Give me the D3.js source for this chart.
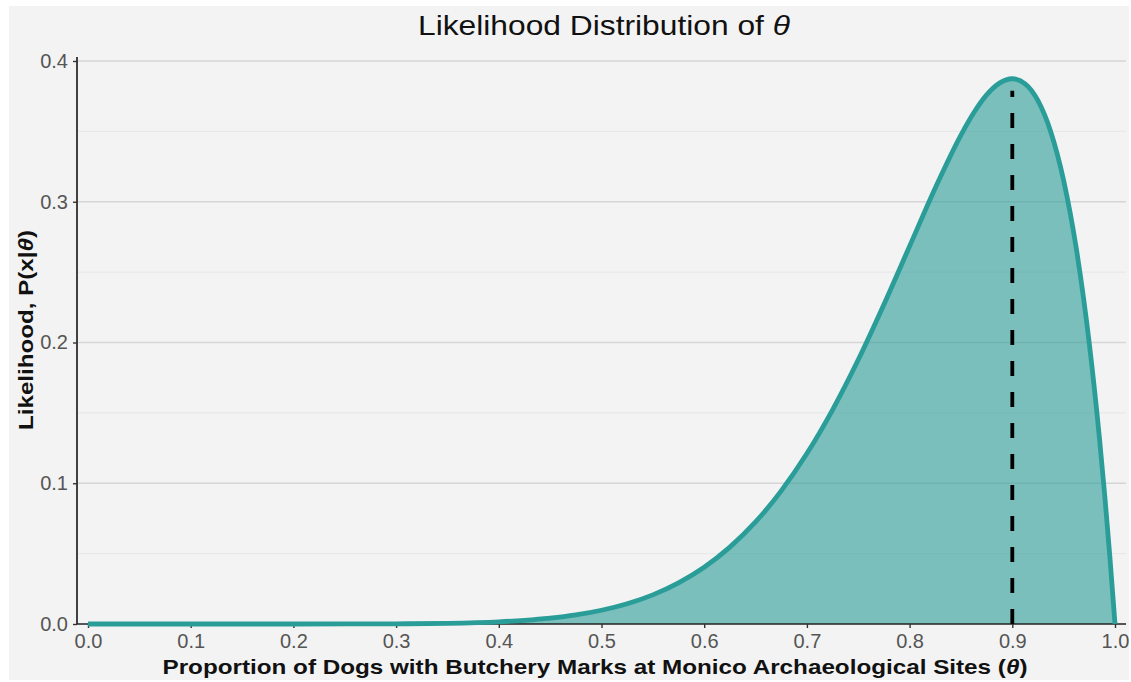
<!DOCTYPE html>
<html>
<head>
<meta charset="utf-8">
<script src="https://cdn.jsdelivr.net/npm/d3@7"></script>
<style>
    body { margin: 0; background: #ffffff; }
    .chart text { font-family: "Liberation Sans", Arial, sans-serif; }
</style>
</head>
<body>
<div class="chart"></div>
<script>
// likelihood values
const thetaValues = [0, 0.1, 0.2, 0.3, 0.35, 0.4, 0.425, 0.45, 0.475, 0.5, 0.525, 0.55, 0.575, 0.6, 0.625, 0.65, 0.675,
    0.7, 0.725, 0.75, 0.775, 0.8, 0.825, 0.85, 0.8625, 0.875, 0.8875, 0.9, 0.9125, 0.925, 0.9375, 0.95, 0.9625,
    0.975, 0.985, 0.99, 0.995, 1.0];
const likelihoodValues = [0, 0.0000001, 0.000004, 0.00014, 0.00051, 0.00157, 0.0026, 0.00416, 0.00646, 0.00977, 0.0144,
    0.0207, 0.0292, 0.0403, 0.0546, 0.0725, 0.0946, 0.1211, 0.1522, 0.1877, 0.2270, 0.2684, 0.3098, 0.3474,
    0.3632, 0.3759, 0.3843, 0.3874, 0.3838, 0.3718, 0.3496, 0.3151, 0.2659, 0.1991, 0.1309, 0.0914, 0.0478, 0];
const xTicks = [0, 0.1, 0.2, 0.3, 0.4, 0.5, 0.6, 0.7, 0.8, 0.9, 1.0];
const yTicks = [0, 0.1, 0.2, 0.3, 0.4];
const yMinorTicks = [0.05, 0.15, 0.25, 0.35];
const mleTheta = 0.9;
const mleValue = 0.3874;

const width = 1131, height = 682;
const svg = d3.select(".chart").append("svg").attr("width", width).attr("height", height);

svg.append("rect").attr("x", 9).attr("y", 6).attr("width", 1120).attr("height", 674).attr("fill", "#f3f3f3");

const panel = {left: 77, right: 1126, top: 57, bottom: 624};
const x = d3.scaleLinear().domain([0, 1]).range([88, 1115]);
const y = d3.scaleLinear().domain([0, 0.4]).range([624, 61]);

const g = svg.append("g");

// grid
g.selectAll(".minor").data(yMinorTicks).enter().append("line")
    .attr("x1", panel.left).attr("x2", panel.right)
    .attr("y1", d => y(d)).attr("y2", d => y(d))
    .attr("stroke", "#e6e6e6").attr("stroke-width", 1);
g.selectAll(".major").data(yTicks.filter(d => d > 0)).enter().append("line")
    .attr("x1", panel.left).attr("x2", panel.right)
    .attr("y1", d => y(d)).attr("y2", d => y(d))
    .attr("stroke", "#d6d6d6").attr("stroke-width", 1.4);

const pts = thetaValues.map((t, i) => ({t: t, v: likelihoodValues[i]}));

const area = d3.area().x(d => x(d.t)).y0(y(0)).y1(d => y(d.v)).curve(d3.curveMonotoneX);
const line = d3.line().x(d => x(d.t)).y(d => y(d.v)).curve(d3.curveMonotoneX);

g.append("path").datum(pts).attr("d", area).attr("fill", "#2a9d98").attr("fill-opacity", 0.6);

// axes
const yAxis = g.append("g").attr("transform", "translate(" + panel.left + ",0)")
    .call(d3.axisLeft(y).tickValues(yTicks).tickFormat(d3.format(".1f")).tickSize(4).tickSizeOuter(0));
yAxis.select(".domain").attr("d", "M0," + panel.bottom + "V" + panel.top).attr("stroke", "#222").attr("stroke-width", 1.7);

const xAxis = g.append("g").attr("transform", "translate(0," + panel.bottom + ")")
    .call(d3.axisBottom(x).tickValues(xTicks).tickFormat(d3.format(".1f")).tickSize(4).tickSizeOuter(0));
xAxis.select(".domain").attr("d", "M" + panel.left + ",0H" + panel.right).attr("stroke", "#222").attr("stroke-width", 1.7);

[xAxis, yAxis].forEach(a => {
    a.attr("font-size", 20);
    a.selectAll(".tick line").attr("stroke", "#333").attr("stroke-width", 1.4);
    a.selectAll(".tick text").attr("fill", "#555")
        .style("font-size", "20px")
        .style("font-family", "Liberation Sans, Arial, sans-serif");
});
xAxis.selectAll(".tick text").attr("y", 10);
yAxis.selectAll(".tick text").attr("x", -9);

g.append("path").datum(pts).attr("d", line).attr("fill", "none")
    .attr("stroke", "#2a9d98").attr("stroke-width", 4.8).attr("stroke-linejoin", "round");

// MLE marker
g.append("line")
    .attr("x1", x(mleTheta)).attr("x2", x(mleTheta))
    .attr("y1", y(0)).attr("y2", y(mleValue) + 12)
    .attr("stroke", "#000").attr("stroke-width", 3.8).attr("stroke-dasharray", "15,16");

// titles
svg.append("text").attr("x", 604).attr("y", 35).attr("text-anchor", "middle")
    .attr("font-size", "28px").attr("fill", "#111")
    .attr("textLength", 372).attr("lengthAdjust", "spacingAndGlyphs")
    .html('Likelihood Distribution of <tspan font-style="italic">θ</tspan>');

svg.append("text").attr("x", 595).attr("y", 674).attr("text-anchor", "middle")
    .attr("font-size", "21px").attr("font-weight", "bold").attr("fill", "#111")
    .attr("textLength", 865).attr("lengthAdjust", "spacingAndGlyphs")
    .html('Proportion of Dogs with Butchery Marks at Monico Archaeological Sites (<tspan font-style="italic">θ</tspan>)');

svg.append("text").attr("transform", "translate(33,330) rotate(-90)").attr("text-anchor", "middle")
    .attr("font-size", "21px").attr("font-weight", "bold").attr("fill", "#111")
    .attr("textLength", 200).attr("lengthAdjust", "spacingAndGlyphs")
    .html('Likelihood, P(x|<tspan font-style="italic">θ</tspan>)');
</script>
</body>
</html>
